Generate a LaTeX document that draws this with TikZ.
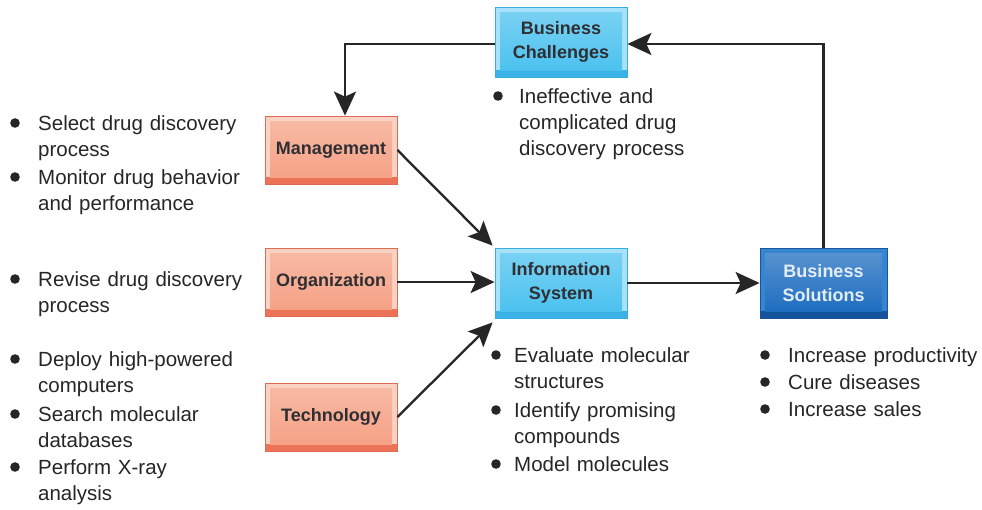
\documentclass[tikz,border=0pt]{standalone}
\usepackage{fontspec}
\setmainfont{Liberation Sans}
\usetikzlibrary{arrows.meta}
\definecolor{txt}{HTML}{262626}
\definecolor{boxtxt}{HTML}{2E2E33}
\definecolor{bOut}{HTML}{35AEE2}
\definecolor{bBev}{HTML}{A8E2F8}
\definecolor{bDark}{HTML}{3AB2E6}
\definecolor{bIn}{HTML}{4CC2EF}
\definecolor{oOut}{HTML}{E06A52}
\definecolor{oBev}{HTML}{FAD2C4}
\definecolor{oDark}{HTML}{EC7258}
\definecolor{oIn}{HTML}{F5A286}
\definecolor{dOut}{HTML}{18559C}
\definecolor{dBev}{HTML}{3585D2}
\definecolor{dDark}{HTML}{14539C}
\definecolor{dIn}{HTML}{1E6EC0}
\definecolor{dTxt}{HTML}{E4ECF4}
\newcommand\bitem[5]{%
  \fill[txt] (#1,#3-7) circle (4.8pt);
  \node[listtxt, anchor=base west] (#4) at (#2,#3) {#5};}
\begin{document}
\begin{tikzpicture}[x=1pt,y=-1pt,
  bevbox/.style n args={4}{draw=#1, line width=0.8pt, fill=#2, inner sep=0pt,
    align=center, font=\fontsize{18}{24}\selectfont\bfseries, text=boxtxt,
    path picture={
      \fill[#3] (path picture bounding box.south west) rectangle ([yshift=7pt]path picture bounding box.south east);
      \shade[top color=#4!75!white, bottom color=#4]
        ([shift={(5pt,7pt)}]path picture bounding box.south west) rectangle
        ([shift={(-5pt,-5pt)}]path picture bounding box.north east);
    }},
  bluebox/.style={bevbox={bOut}{bBev}{bDark}{bIn}, minimum width=132pt, minimum height=70pt},
  orangebox/.style={bevbox={oOut}{oBev}{oDark}{oIn}, minimum width=132pt, minimum height=68pt},
  darkbox/.style={bevbox={dOut}{dBev}{dDark}{dIn}, minimum width=127pt, minimum height=70pt, text=dTxt},
  listtxt/.style={inner sep=0pt, text=txt, align=left, text width=240pt,
    font=\fontsize{20.5}{26}\selectfont},
  arr/.style={draw=txt, line width=2.3pt,
    -{Stealth[length=24pt,width=22pt,inset=5pt]}}
]
\useasboundingbox (0,0) rectangle (982,509);
\fill[white] (0,0) rectangle (982,509);

% boxes
\node[bluebox] (bc) at (561,42) {Business\\Challenges};
\node[orangebox] (mgmt) at (331,150) {Management};
\node[orangebox] (org) at (331,282) {Organization};
\node[orangebox] (tech) at (331,417) {Technology};
\node[bluebox] (is) at (561,283) {Information\\System};
\node[darkbox] (bs) at (823.5,283) {Business\\Solutions};

% connectors
\draw[arr] ([yshift=-2pt]bc.west) -| ([xshift=14pt]mgmt.north);
\draw[arr] (bs.north) |- ([yshift=-2pt]bc.east);
\draw[arr] (mgmt.east) -- ([xshift=-2pt,yshift=2pt]is.north west);
\draw[arr] (org.east) -- (is.west |- org.east);
\draw[arr] (tech.east) -- ([xshift=-2pt,yshift=-4pt]is.south west);
\draw[arr] (is.east) -- (bs.west);

% lists
\bitem{15}{38}{130}{m1}{Select drug discovery\\process}
\bitem{15}{38}{184}{m2}{Monitor drug behavior\\and performance}
\bitem{15}{38}{286}{o1}{Revise drug discovery\\process}
\bitem{15}{38}{366}{t1}{Deploy high-powered\\computers}
\bitem{15}{38}{421}{t2}{Search molecular\\databases}
\bitem{15}{38}{474}{t3}{Perform X-ray\\analysis}

\bitem{498}{519}{103}{c1}{Ineffective and\\complicated drug\\discovery process}

\bitem{496}{514}{362}{i1}{Evaluate molecular\\structures}
\bitem{496}{514}{417}{i2}{Identify promising\\compounds}
\bitem{496}{514}{471}{i3}{Model molecules}

\bitem{765}{788}{362}{s1}{Increase productivity}
\bitem{765}{788}{389}{s2}{Cure diseases}
\bitem{765}{788}{416}{s3}{Increase sales}
\end{tikzpicture}
\end{document}
